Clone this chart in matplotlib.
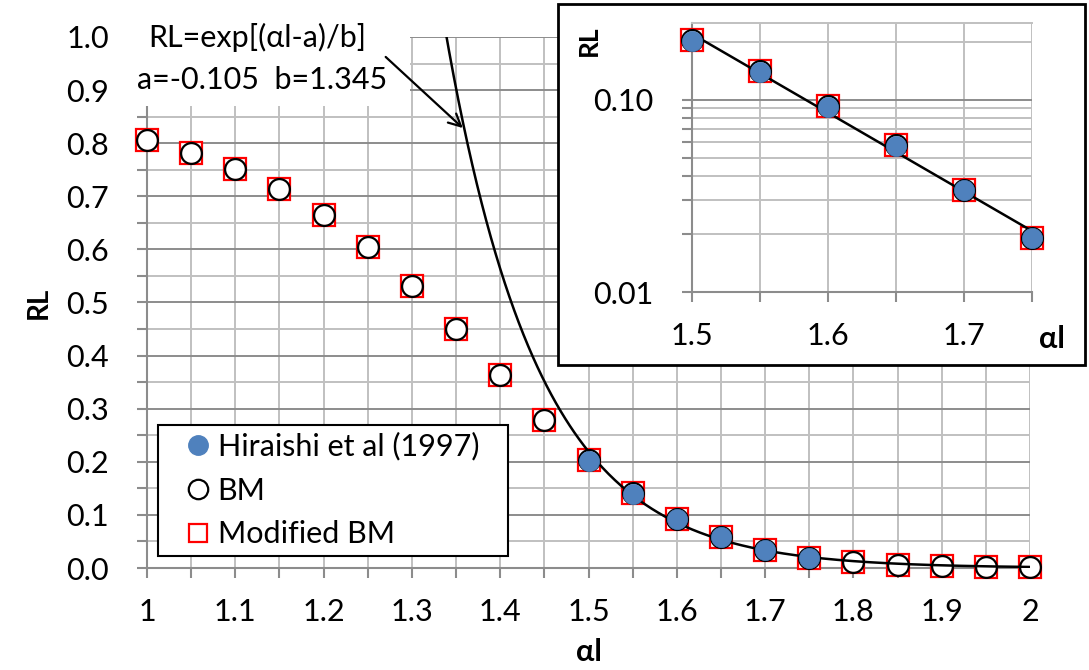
import numpy as np
import matplotlib
matplotlib.use("Agg")
import matplotlib.pyplot as plt
from matplotlib.patches import Rectangle
from matplotlib.lines import Line2D
from matplotlib.ticker import MultipleLocator, FixedLocator, NullFormatter, FuncFormatter

plt.rcParams['font.family'] = ['Lato', 'DejaVu Sans']

# ---- data ----
al = [1.0, 1.05, 1.1, 1.15, 1.2, 1.25, 1.3, 1.35, 1.4, 1.45, 1.5,
      1.55, 1.6, 1.65, 1.7, 1.75, 1.8, 1.85, 1.9, 1.95, 2.0]
bm = [0.806, 0.781, 0.751, 0.714, 0.664, 0.604, 0.531, 0.450, 0.363, 0.279, 0.203,
      0.141, 0.093, 0.058, 0.034, 0.019, 0.011, 0.006, 0.003, 0.002, 0.001]
mod_bm = [0.806, 0.781, 0.751, 0.714, 0.664, 0.604, 0.531, 0.450, 0.363, 0.279, 0.203,
          0.141, 0.093, 0.058, 0.034, 0.019, 0.011, 0.006, 0.003, 0.002, 0.001]
hir_x = [1.5, 1.55, 1.6, 1.65, 1.7, 1.75]
hir_y = [0.201, 0.139, 0.0916, 0.0576, 0.0337, 0.019]

x_ticks = [1.0, 1.1, 1.2, 1.3, 1.4, 1.5, 1.6, 1.7, 1.8, 1.9, 2.0]
x_ticklabels = ['1', '1.1', '1.2', '1.3', '1.4', '1.5', '1.6', '1.7', '1.8', '1.9', '2']

# exponential trend line (least-squares fit in log space, as a spreadsheet trendline)
slope, icpt = np.polyfit(hir_x, np.log(hir_y), 1)

W, H = 1089, 670
fig = plt.figure(figsize=(W / 100, H / 100), dpi=100)

GL = '#C0C0C0'
GD = '#8C8C8C'
FS = 22
BLUE = '#4F81BD'

def px(x0, y0, x1, y1):
    return [x0 / W, 1 - y1 / H, (x1 - x0) / W, (y1 - y0) / H]

# ---- main axes ----
ax = fig.add_axes(px(147, 37, 1030, 568))
ax.set_xlim(1, 2)
ax.set_ylim(0, 1)
ax.xaxis.set_major_locator(FixedLocator(x_ticks))
ax.set_xticklabels(x_ticklabels)
ax.xaxis.set_minor_locator(MultipleLocator(0.05))
ax.yaxis.set_major_locator(MultipleLocator(0.1))
ax.yaxis.set_minor_locator(MultipleLocator(0.05))
ax.yaxis.set_major_formatter(FuncFormatter(lambda v, p: f'{v:.1f}'))
for s in ['top', 'right']:
    ax.spines[s].set_visible(False)
for s in ['left', 'bottom']:
    ax.spines[s].set_color(GD)
    ax.spines[s].set_linewidth(1.5)
ax.grid(True, axis='x', which='both', color=GL, lw=1.4)
ax.grid(True, axis='y', which='major', color=GD, lw=1.4)
ax.grid(True, axis='y', which='minor', color=GL, lw=1.4)
ax.tick_params(axis='both', which='both', direction='out', color=GD, width=1.5, length=7.5)
ax.tick_params(axis='y', which='both', pad=20, labelsize=FS)
ax.tick_params(axis='x', which='both', pad=14, labelsize=FS)
ax.set_axisbelow(True)

ax.plot(al, mod_bm, 's', ms=16.5, mfc='white', mec='#FF0000', mew=1.6, clip_on=False, zorder=3)
ax.plot(al, bm, 'o', ms=15, mfc='none', mec='black', mew=1.6, clip_on=False, zorder=4)
xc = np.linspace(1.3, 2.0, 400)
ax.plot(xc, np.exp(icpt + slope * xc), '-', color='black', lw=1.8, zorder=5)
ax.plot(hir_x, hir_y, 'o', ms=14.5, mfc=BLUE, mec=BLUE, mew=0.5, clip_on=False, zorder=6)

ax.set_ylabel('RL', fontsize=FS - 2, fontweight='bold', labelpad=10)
ax.set_xlabel('αl', fontsize=FS, fontweight='bold', labelpad=9)

# white box behind the equation text
ax.add_patch(Rectangle((0.975, 0.870), 0.323, 0.2, facecolor='white', edgecolor='none',
                       clip_on=False, zorder=7))
ax.text(1.001, 1.0, 'RL=exp[(αl-a)/b]', fontsize=FS, ha='left', va='center', zorder=8)
ax.text(0.989, 0.919, 'a=-0.105  b=1.345', fontsize=FS, ha='left', va='center', zorder=8)
ax.annotate('', xy=(1.360, 0.825), xytext=(1.268, 0.966),
            arrowprops=dict(arrowstyle='->', color='black', lw=1.6, mutation_scale=22),
            zorder=8, annotation_clip=False)

# legend (frame drawn separately)
ax.add_patch(Rectangle((158 / W, 1 - 556 / H), 350 / W, 131 / H, transform=fig.transFigure,
                       facecolor='white', edgecolor='black', lw=1.5, clip_on=False, zorder=8.5))
handles = [Line2D([], [], ls='none', marker='o', ms=14, mfc=BLUE, mec=BLUE),
           Line2D([], [], ls='none', marker='o', ms=14, mfc='none', mec='black', mew=1.6),
           Line2D([], [], ls='none', marker='s', ms=13.5, mfc='none', mec='#FF0000', mew=1.6)]
labels = ['Hiraishi et al (1997)', 'BM', 'Modified BM']
leg = ax.legend(handles, labels, loc='upper left',
                bbox_to_anchor=(187 / W, 1 - 432 / H),
                bbox_transform=fig.transFigure, borderaxespad=0,
                fontsize=FS, frameon=False, handlelength=0.75, handletextpad=0.25,
                labelspacing=0.52, borderpad=0.0)
leg.set_zorder(9)

# ---- inset ----
fig.patches.append(Rectangle((558 / W, 1 - 365 / H), (1085 - 558) / W, (365 - 4) / H,
                             transform=fig.transFigure, facecolor='white',
                             edgecolor='black', lw=2, zorder=1))
ax2 = fig.add_axes(px(692, 23, 1032, 292))
ax2.set_zorder(2)
ax2.set_yscale('log')
ax2.set_xlim(1.5, 1.75)
ax2.set_ylim(0.01, 0.25)
ax2.xaxis.set_major_locator(FixedLocator([1.5, 1.6, 1.7]))
ax2.xaxis.set_minor_locator(FixedLocator([1.55, 1.65, 1.75]))
ax2.yaxis.set_major_locator(FixedLocator([0.01, 0.1]))
ax2.yaxis.set_minor_locator(FixedLocator([0.02, 0.03, 0.04, 0.05, 0.06, 0.07, 0.08, 0.09, 0.2]))
ax2.yaxis.set_major_formatter(FuncFormatter(lambda v, p: f'{v:.2f}'))
ax2.yaxis.set_minor_formatter(NullFormatter())
ax2.xaxis.set_major_formatter(FuncFormatter(lambda v, p: f'{v:.1f}'))
ax2.spines['right'].set_visible(False)
ax2.spines['top'].set_color(GL)
ax2.spines['top'].set_linewidth(1.4)
for s in ['left', 'bottom']:
    ax2.spines[s].set_color(GD)
    ax2.spines[s].set_linewidth(1.5)
ax2.grid(True, axis='x', which='both', color=GL, lw=1.4)
ax2.grid(True, axis='y', which='major', color=GD, lw=1.4)
ax2.grid(True, axis='y', which='minor', color=GL, lw=1.4)
ax2.tick_params(axis='both', which='both', direction='out', color=GD, width=1.5, length=7.5)
ax2.tick_params(axis='y', which='both', pad=20, labelsize=FS)
ax2.tick_params(axis='x', which='both', pad=14, labelsize=FS)
ax2.set_axisbelow(True)

ax2.plot(hir_x, [bm[al.index(v)] for v in hir_x], 's', ms=16.5, mfc='white', mec='#FF0000',
         mew=1.6, clip_on=False, zorder=3)
ax2.plot(hir_x, [bm[al.index(v)] for v in hir_x], 'o', ms=15, mfc='none', mec='black',
         mew=1.6, clip_on=False, zorder=4)
xi = np.linspace(1.5, 1.75, 50)
ax2.plot(xi, np.exp(icpt + slope * xi), '-', color='black', lw=1.8, zorder=5)
ax2.plot(hir_x, hir_y, 'o', ms=14.5, mfc=BLUE, mec=BLUE, mew=0.5, clip_on=False, zorder=6)

fig.text(589 / W, 1 - 41 / H, 'RL', fontsize=FS - 3, fontweight='bold', rotation=90,
         ha='center', va='center', zorder=3)
fig.text(1052 / W, 1 - 339 / H, 'αl', fontsize=FS, fontweight='bold',
         ha='center', va='center', zorder=3)

fig.savefig('out.png', dpi=100)
